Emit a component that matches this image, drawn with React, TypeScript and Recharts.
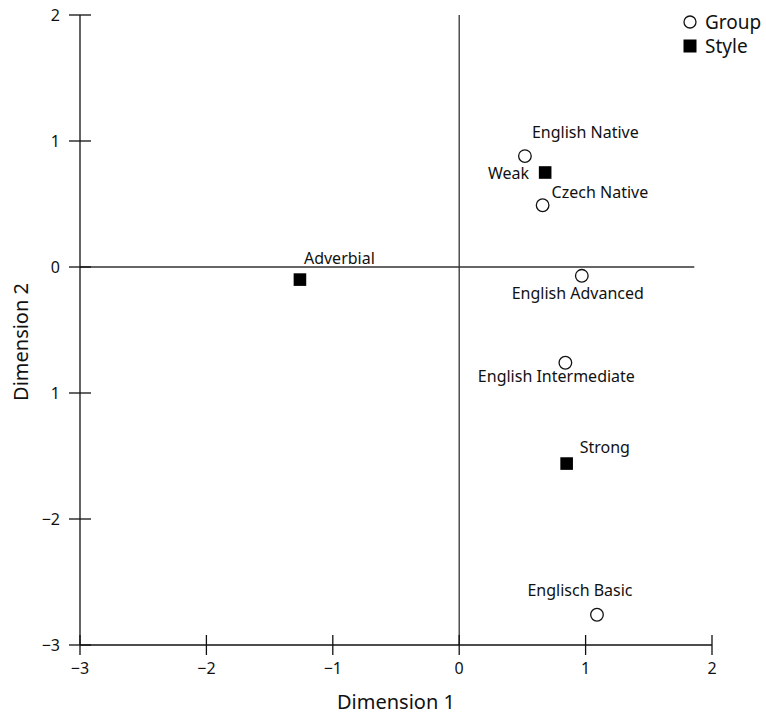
import { ScatterChart, Scatter, XAxis, YAxis, ReferenceLine, Legend } from "recharts";

// group positions on the two MDS dimensions
const GROUP_NAMES = [
  "English Native",
  "Czech Native",
  "English Advanced",
  "English Intermediate",
  "Englisch Basic",
];
const GROUP_DIM1 = [0.52, 0.66, 0.97, 0.84, 1.09];
const GROUP_DIM2 = [0.88, 0.49, -0.07, -0.76, -2.76];

// style positions
const STYLE_NAMES = ["Weak", "Adverbial", "Strong"];
const STYLE_DIM1 = [0.68, -1.26, 0.85];
const STYLE_DIM2 = [0.75, -0.1, -1.56];

const AXIS_TICKS = [-3, -2, -1, 0, 1, 2];
const X_TICK_LABELS = ["−3", "−2", "−1", "0", "1", "2"];
const Y_TICK_LABELS = ["−3", "−2", "1", "0", "1", "2"];

// horizontal zero line stops short of the right edge
const ZERO_LINE_END = 1.86;

const INK = "#111";
const FONT = '"Noto Sans", sans-serif';

type Placement = { anchor: "start" | "middle" | "end"; dx: number; dy: number };

const LABEL_PLACEMENT: Record<string, Placement> = {
  "English Native": { anchor: "start", dx: 7, dy: -18 },
  "Czech Native": { anchor: "start", dx: 9, dy: -7 },
  "English Advanced": { anchor: "middle", dx: -4, dy: 23 },
  "English Intermediate": { anchor: "middle", dx: -9, dy: 19 },
  "Englisch Basic": { anchor: "middle", dx: -17, dy: -19 },
  Weak: { anchor: "end", dx: -16, dy: 6 },
  Adverbial: { anchor: "start", dx: 4, dy: -16 },
  Strong: { anchor: "start", dx: 13, dy: -11 },
};

const groupData = GROUP_NAMES.map((name, i) => ({ name, x: GROUP_DIM1[i], y: GROUP_DIM2[i] }));
const styleData = STYLE_NAMES.map((name, i) => ({ name, x: STYLE_DIM1[i], y: STYLE_DIM2[i] }));

function PointLabel({ cx, cy, name }: { cx: number; cy: number; name: string }) {
  const p = LABEL_PLACEMENT[name];
  return (
    <text x={cx + p.dx} y={cy + p.dy} textAnchor={p.anchor} fontSize={16} fill={INK}>
      {name}
    </text>
  );
}

function GroupMarker(props: any) {
  const { cx, cy, payload } = props;
  return (
    <g>
      <circle cx={cx} cy={cy} r={6.3} fill="#fff" stroke={INK} strokeWidth={1.3} />
      <PointLabel cx={cx} cy={cy} name={payload.name} />
    </g>
  );
}

function StyleMarker(props: any) {
  const { cx, cy, payload } = props;
  return (
    <g>
      <rect x={cx - 6.3} y={cy - 6.3} width={12.6} height={12.6} fill="#000" />
      <PointLabel cx={cx} cy={cy} name={payload.name} />
    </g>
  );
}

// ticks cross the axis line on both sides
function XTick(props: any) {
  const { x, y, payload } = props;
  const label = X_TICK_LABELS[AXIS_TICKS.indexOf(payload.value)];
  return (
    <g>
      <line x1={x} x2={x} y1={y - 10} y2={y + 10} stroke={INK} strokeWidth={1.3} />
      <text x={x} y={y + 29} textAnchor="middle" fontSize={16} fill={INK}>
        {label}
      </text>
    </g>
  );
}

function YTick(props: any) {
  const { x, y, payload } = props;
  const label = Y_TICK_LABELS[AXIS_TICKS.indexOf(payload.value)];
  return (
    <g>
      <line x1={x - 11} x2={x + 11} y1={y} y2={y} stroke={INK} strokeWidth={1.3} />
      <text x={x - 20} y={y} dy="0.35em" textAnchor="end" fontSize={16} fill={INK}>
        {label}
      </text>
    </g>
  );
}

function YTitle(props: any) {
  const { viewBox } = props;
  const x = 28;
  const y = viewBox.y + viewBox.height / 2 + 12;
  return (
    <text x={x} y={y} transform={`rotate(-90, ${x}, ${y})`} textAnchor="middle" fontSize={20} fill={INK}>
      Dimension 2
    </text>
  );
}

function renderLegend(props: any) {
  const { payload } = props;
  return (
    <div style={{ fontSize: 19, lineHeight: "24px", color: INK, fontFamily: FONT }}>
      {payload.map((entry: any) => (
        <div key={entry.value} style={{ display: "flex", alignItems: "center" }}>
          <svg width={16} height={16} style={{ marginRight: 7 }}>
            {entry.value === "Group" ? (
              <circle cx={8} cy={8} r={6} fill="none" stroke={INK} strokeWidth={1.3} />
            ) : (
              <rect x={1.5} y={1.5} width={13} height={13} fill="#000" />
            )}
          </svg>
          <span>{entry.value}</span>
        </div>
      ))}
    </div>
  );
}

export default function App() {
  return (
    <div
      style={{
        position: "absolute",
        left: 0,
        top: 0,
        width: 766,
        height: 716,
        background: "#fff",
        fontFamily: FONT,
      }}
    >
      <ScatterChart width={766} height={716} margin={{ top: 15, right: 54, bottom: 0, left: 0 }}>
        <XAxis
          type="number"
          dataKey="x"
          domain={[-3, 2]}
          ticks={AXIS_TICKS}
          interval={0}
          height={71}
          tickSize={0}
          tickMargin={0}
          tickLine={false}
          tick={<XTick />}
          axisLine={{ stroke: INK, strokeWidth: 1.3 }}
          label={{ value: "Dimension 1", position: "insideBottom", offset: 7, fontSize: 20, fill: INK }}
        />
        <YAxis
          type="number"
          dataKey="y"
          domain={[-3, 2]}
          ticks={AXIS_TICKS}
          interval={0}
          width={80}
          tickSize={0}
          tickMargin={0}
          tickLine={false}
          tick={<YTick />}
          axisLine={{ stroke: INK, strokeWidth: 1.3 }}
          label={<YTitle />}
        />
        <ReferenceLine x={0} stroke="#333" strokeWidth={1.3} />
        <ReferenceLine
          segment={[
            { x: -3, y: 0 },
            { x: ZERO_LINE_END, y: 0 },
          ]}
          stroke="#333"
          strokeWidth={1.3}
        />
        <Legend
          layout="horizontal"
          verticalAlign="middle"
          align="center"
          content={renderLegend}
          wrapperStyle={{ left: 682, top: 10, width: 90 }}
        />
        <Scatter name="Group" data={groupData} shape={<GroupMarker />} isAnimationActive={false} />
        <Scatter name="Style" data={styleData} shape={<StyleMarker />} isAnimationActive={false} />
      </ScatterChart>
    </div>
  );
}
